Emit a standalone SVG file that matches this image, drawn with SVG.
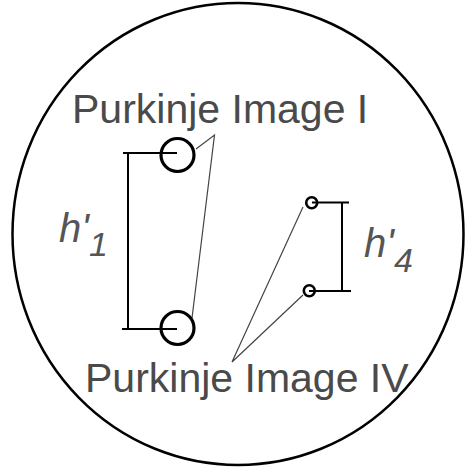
<svg xmlns="http://www.w3.org/2000/svg" width="465" height="468" viewBox="0 0 465 468">
<style>
.lbl{font-family:"Liberation Sans",Arial,sans-serif;font-size:41px;fill:#4a4a4a}
.it{font-family:"Liberation Sans",Arial,sans-serif;font-style:italic;fill:#555;font-size:40px}
.sub{font-size:34px}
.br{stroke:#000;stroke-width:2;fill:none}
.ld{stroke:#444;stroke-width:1.2;fill:none}
.img{stroke:#000;fill:#fff}
</style>
<rect width="465" height="468" fill="#fff"/>
<g id="eye"><ellipse cx="238" cy="234" rx="225.5" ry="231" fill="none" stroke="#000" stroke-width="2.5"/></g>
<g id="connectors">
<path class="br" d="M123 153H177M128 153V329M122 329H177"/>
<path class="br" d="M312 202.5H349M342 202.5V291M309 291H351"/>
<path class="ld" d="M196 149L214.5 135L192 318"/>
<path class="ld" d="M303 207L232 362L303 295"/>
</g>
<g id="pi1-top"><circle class="img" cx="177.5" cy="155" r="16.5" stroke-width="3.2"/><path class="br" d="M160 153H177"/></g>
<g id="pi1-bottom"><circle class="img" cx="177.5" cy="328" r="16.5" stroke-width="3.2"/><path class="br" d="M160 329H177"/></g>
<g id="pi4-top"><circle class="img" cx="311.7" cy="202.7" r="5.5" stroke-width="2.6"/><path class="br" d="M312 202.5H318"/></g>
<g id="pi4-bottom"><circle class="img" cx="309.3" cy="290.8" r="5.5" stroke-width="2.6"/><path class="br" d="M309 291H315"/></g>
<g id="label-pi1"><text class="lbl" x="72" y="123">Purkinje Image I</text></g>
<g id="label-pi4"><text class="lbl" x="85" y="392">Purkinje Image IV</text></g>
<g id="label-h1"><text class="it" x="59" y="242">h'<tspan class="sub" dy="14">1</tspan></text></g>
<g id="label-h4"><text class="it" x="364" y="257">h'<tspan class="sub" dy="15">4</tspan></text></g>
</svg>
